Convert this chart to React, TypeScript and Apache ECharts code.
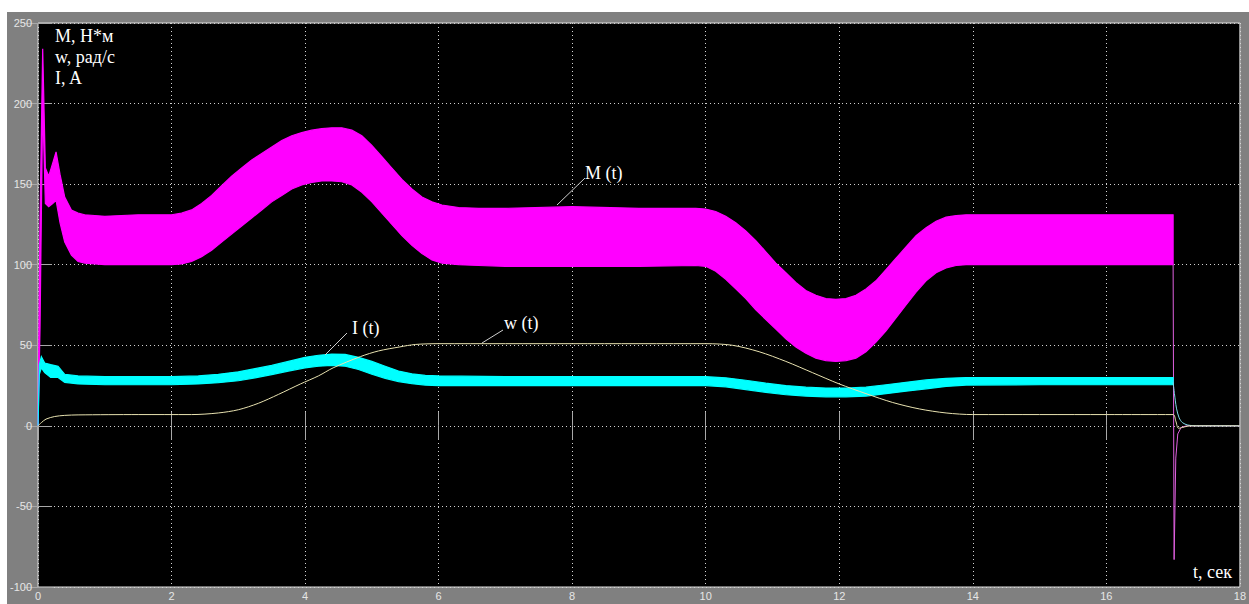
import React, { useEffect, useRef } from "react";
import * as echarts from "echarts";

// ---- Data ----
const xTicks = [0, 2, 4, 6, 8, 10, 12, 14, 16, 18];
const yTicks = [-100, -50, 0, 50, 100, 150, 200, 250];

// Torque M(t): envelope (upper / lower) of the oscillating band
const tM = [0, 0.03, 0.07, 0.11, 0.16, 0.22, 0.27, 0.33, 0.4, 0.5,
  0.6, 0.7, 1.0, 1.5, 2.0, 2.15, 2.3, 2.45, 2.6, 2.75,
  2.9, 3.05, 3.2, 3.35, 3.5, 3.65, 3.8, 3.95, 4.1, 4.25,
  4.4, 4.55, 4.7, 4.85, 5.0, 5.15, 5.3, 5.45, 5.6, 5.75,
  5.9, 6.05, 6.3, 6.6, 7, 8, 9, 9.85, 10.0, 10.15,
  10.3, 10.45, 10.6, 10.75, 10.9, 11.05, 11.2, 11.35, 11.5, 11.65,
  11.8, 11.95, 12.1, 12.25, 12.4, 12.55, 12.7, 12.85, 13.0, 13.15,
  13.3, 13.45, 13.6, 13.75, 13.9, 14.2, 15, 16, 17.0];
const mUpper = [0, 130, 234, 160, 155, 163, 170, 156, 142, 134,
  132, 131, 130, 131, 131, 132, 134, 138, 143, 149,
  155, 160, 165, 169, 173, 177, 180, 182, 183.5, 184.5,
  185, 185, 183.5, 180, 174, 167, 160, 153, 147, 142,
  139, 137, 135.5, 135, 135, 136, 135, 135, 134.5, 133,
  130, 126, 121, 115, 108, 101, 95, 89, 84, 81,
  79, 78.5, 79, 81, 85, 90, 97, 104, 111, 118,
  123, 127, 129.5, 130.5, 131, 131, 131, 131, 131];
const mLower = [0, 60, 200, 138, 136, 138, 140, 126, 114, 106,
  102, 101, 100, 100, 100, 100.5, 102, 105, 109, 114,
  119, 124, 129, 134, 139, 143, 147, 149.5, 151, 152,
  152, 151.5, 149.5, 145, 139, 132, 125, 118, 112, 107,
  103, 101, 100, 99.5, 99, 99, 99, 99.5, 99, 96,
  91, 85, 79, 72, 66, 60, 54, 49, 45, 42,
  40.5, 40, 40.5, 42, 46, 52, 59, 67, 75, 83,
  90, 95, 98, 99.5, 100, 100, 100, 100, 100];
const tMTail = [17.0, 17.015, 17.04, 17.07, 17.12, 17.2, 18];
const mTail = [100, -83, -20, -5, -1, 0, 0];

// Current I(t): envelope of the band
const tI = [0, 0.02, 0.05, 0.1, 0.19, 0.3, 0.4, 0.6, 1.0, 2.0,
  2.4, 2.7, 3.0, 3.25, 3.5, 3.75, 4.0, 4.2, 4.4, 4.6,
  4.8, 5.0, 5.2, 5.4, 5.6, 5.8, 6.0, 7, 8, 9,
  10.0, 10.3, 10.6, 10.9, 11.2, 11.5, 11.8, 12.1, 12.4, 12.7,
  13.0, 13.3, 13.6, 13.9, 15, 16, 17.0];
const iUpper = [0, 38, 43, 39, 38, 37, 32, 31, 30.5, 30.5,
  31, 32, 33.5, 35.5, 37.5, 40, 42.5, 43.8, 44.5, 44.3,
  42.5, 40, 37, 34, 32.3, 31.3, 31, 30.5, 30.5, 30.5,
  30.5, 29.8, 28.3, 26.5, 25, 24, 23.5, 23.5, 24, 25.5,
  27, 28.5, 29.5, 30, 30, 30, 30];
const iLower = [0, 32, 36, 33, 30, 30, 27, 26, 25.5, 25.5,
  26, 26.8, 28, 29.8, 31.8, 34, 36, 37, 37.5, 37,
  35, 32, 29.5, 27.5, 26.2, 25.3, 25, 25, 25, 25,
  25, 24.2, 22.5, 20.8, 19.3, 18.5, 18, 18, 18.5, 20,
  21.5, 23, 24.5, 25.3, 25.5, 25.5, 25.5];
const tITail = [17.0, 17.02, 17.05, 17.09, 17.14, 17.22, 17.35, 18];
const iTail = [27, 20, 11, 5, 2, 0.5, 0, 0];

// Speed w(t)
const tW = [0, 0.05, 0.12, 0.25, 0.4, 0.6, 1.5, 2.3, 2.7, 3.0, 3.3, 3.6, 3.93, 4.2, 4.42, 4.83, 5.1, 5.42, 5.65, 6.0, 8, 10.0, 10.4, 10.8, 11.2, 11.6, 12.0, 12.4, 12.8, 13.2, 13.6, 14.0, 16, 17.0, 17.04, 17.08, 17.14, 17.25, 18];
const wValues = [0, 2, 4.2, 5.8, 6.5, 6.8, 7, 7, 8, 10, 14, 19.5, 26, 31, 36, 43, 46.5, 49, 50.5, 51, 51, 51, 50, 46, 40, 33, 26, 20, 14.5, 10.5, 8, 7, 7, 7, 3, -1.5, -1, 0, 0];

const unitLabels = ["M, H*м", "w, рад/с", "I, A"];
const xTitle = "t, сек";
const seriesLabels = ["M (t)", "I (t)", "w (t)"];

const pairs = (t: number[], v: number[]) => t.map((x, i) => [x, v[i]]);

const MAG = "#ff00ff";
const CYAN = "#00ffff";
const SERIF = "'Liberation Serif', 'Times New Roman', serif";
const LABEL_FONT = "'Liberation Sans Narrow', 'Arial Narrow', 'Liberation Sans', Arial, sans-serif";

// Band drawn through the axis scales: polygon from upper envelope and reversed lower envelope
const bandSeries = (name: string, t: number[], up: number[], low: number[], color: string, z: number) => ({
  type: "custom",
  name,
  z,
  data: [[t[0], low[0]]],
  renderItem: (_params: any, api: any) => {
    const pts: number[][] = [];
    for (let i = 0; i < t.length; i++) pts.push(api.coord([t[i], up[i]]));
    for (let i = t.length - 1; i >= 0; i--) pts.push(api.coord([t[i], low[i]]));
    return {
      type: "polygon",
      shape: { points: pts },
      style: { fill: color, stroke: color, lineWidth: 1.2 },
    };
  },
});

export default function App() {
  const ref = useRef<HTMLDivElement>(null);
  useEffect(() => {
    if (!ref.current) return;
    const chart = echarts.init(ref.current, null, { renderer: "svg" });
    const tickStyle = { inside: true, length: 14, lineStyle: { color: "#a8a8a8", width: 1 } };
    const split = { show: true, lineStyle: { color: "#d4d4d4", type: [1, 3] as any, width: 1 } };
    const labelStyle = { color: "#e6e6e6", fontSize: 11, fontFamily: LABEL_FONT };
    const textEl = (text: string, x: number, y: number) => ({
      type: "text",
      x,
      y,
      z: 100,
      style: { text, fill: "#ffffff", fontSize: 18, fontFamily: SERIF, verticalAlign: "middle", align: "left" },
    });
    const lineEl = (x1: number, y1: number, x2: number, y2: number) => ({
      type: "line",
      z: 100,
      shape: { x1, y1, x2, y2 },
      style: { stroke: "#cfcfcf", lineWidth: 1 },
    });
    const option: any = {
      animation: false,
      backgroundColor: "#808080",
      grid: { left: 30, top: 11, right: 7, bottom: 17, show: true, backgroundColor: "#000000", borderColor: "#dcdcdc", borderWidth: 1 },
      xAxis: [
        {
          type: "value", min: xTicks[0], max: xTicks[xTicks.length - 1], interval: 2, position: "bottom",
          axisLine: { show: false }, axisTick: tickStyle,
          axisLabel: { ...labelStyle, margin: 3 }, splitLine: split,
        },
        {
          type: "value", min: xTicks[0], max: xTicks[xTicks.length - 1], interval: 2, position: "top",
          axisLine: { show: false }, axisTick: tickStyle, axisLabel: { show: false }, splitLine: { show: false },
        },
      ],
      yAxis: [
        {
          type: "value", min: yTicks[0], max: yTicks[yTicks.length - 1], interval: 50, position: "left",
          axisLine: { show: false }, axisTick: tickStyle,
          axisLabel: { ...labelStyle, margin: 6 }, splitLine: split,
        },
        {
          type: "value", min: yTicks[0], max: yTicks[yTicks.length - 1], interval: 50, position: "right",
          axisLine: { show: false }, axisTick: tickStyle, axisLabel: { show: false }, splitLine: { show: false },
        },
      ],
      series: [
        bandSeries("M", tM, mUpper, mLower, MAG, 2),
        {
          type: "line", name: "M-tail", data: pairs(tMTail, mTail), symbol: "none",
          lineStyle: { color: "#e060e0", width: 1 }, z: 3,
        },
        bandSeries("I", tI, iUpper, iLower, CYAN, 4),
        {
          type: "line", name: "I-tail", data: pairs(tITail, iTail), symbol: "none", smooth: 0.3,
          lineStyle: { color: "#7fdcea", width: 1 }, z: 5,
        },
        {
          type: "line", name: "w", data: pairs(tW, wValues), symbol: "none", smooth: 0.3,
          lineStyle: { color: "#e8e2b0", width: 1 }, z: 6,
        },
      ],
      graphic: [
        textEl(unitLabels[0], 48, 24),
        textEl(unitLabels[1], 48, 45),
        textEl(unitLabels[2], 48, 66),
        textEl(xTitle, 1186, 560),
        textEl(seriesLabels[0], 578, 161),
        lineEl(550, 193, 578, 166),
        textEl(seriesLabels[1], 345, 316),
        lineEl(340, 321, 318, 343),
        textEl(seriesLabels[2], 497, 311),
        lineEl(496, 318, 475, 331),
      ],
    };
    chart.setOption(option);
    return () => chart.dispose();
  }, []);
  return (
    <div style={{ position: "absolute", left: 7, top: 12, width: 1242, height: 592 }}>
      <div ref={ref} style={{ width: 1242, height: 592 }} />
    </div>
  );
}
